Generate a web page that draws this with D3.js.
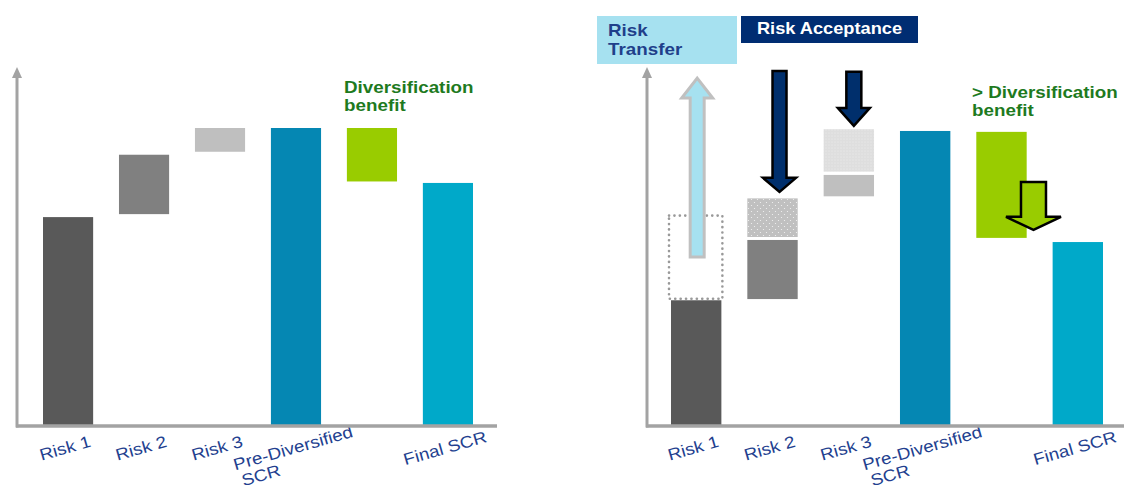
<!DOCTYPE html>
<html>
<head>
<meta charset="utf-8">
<script src="https://cdn.jsdelivr.net/npm/d3@7"></script>
<style>
  html, body { margin: 0; padding: 0; background: #fff; }
  svg { display: block; font-family: "Liberation Sans", Arial, sans-serif; }
</style>
</head>
<body>
<svg id="chart" width="1124" height="491"></svg>
<script>
// ---------------- DATA ----------------
const categories = ["Risk 1", "Risk 2", "Risk 3", "Pre-Diversified SCR", "Diversification", "Final SCR"];
const tickLabels = ["Risk 1", "Risk 2", "Risk 3", "Pre-Diversified\nSCR", "", "Final SCR"];
const barColors  = ["#595959", "#808080", "#bfbfbf", "#0587b3", "#99cc00", "#00a9c9"];

// Left chart (before): floating bars [start, end]
const leftStart = [0, 71, 92, 0, 82, 0];
const leftEnd   = [70, 91, 100, 100, 100, 81.5];

// Right chart (after): floating bars [start, end]
const rightStart = [0, 42.4, 77, 0, 63, 0];
const rightEnd   = [42, 62.3, 84.2, 99, 98.7, 61.6];

// Right chart: transferred risk (dotted outline) on Risk 1
const transferCat = ["Risk 1"];
const transferStart = [42.5];
const transferEnd   = [70.5];

// Right chart: accepted risk (patterned) on Risk 2 / Risk 3
const acceptCats  = ["Risk 2", "Risk 3"];
const acceptStart = [63.3, 85.3];
const acceptEnd   = [76.3, 99.6];

// Right chart: arrows [category, from value, to value]
const arrowCats = ["Risk 1", "Risk 2", "Risk 3", "Diversification"];
const arrowFrom = [56.6, 119.2, 118.9, 81.8];
const arrowTo   = [116.8, 78.5, 100.7, 65.7];

const yAxisMax = 120.5;

// ---------------- DRAW ----------------
const STRETCH = 1.14; // text in the reference is horizontally widened
const svg = d3.select("#chart");
const defs = svg.append("defs");

// dotted patterns
const p1 = defs.append("pattern").attr("id", "dots2").attr("patternUnits", "userSpaceOnUse")
  .attr("width", 6).attr("height", 6);
p1.append("rect").attr("width", 6).attr("height", 6).attr("fill", "#c0c0c0");
p1.append("circle").attr("cx", 1.5).attr("cy", 1.5).attr("r", 0.6).attr("fill", "#f4f4f4");
p1.append("circle").attr("cx", 4.5).attr("cy", 4.5).attr("r", 0.6).attr("fill", "#f4f4f4");

const p2 = defs.append("pattern").attr("id", "dots3").attr("patternUnits", "userSpaceOnUse")
  .attr("width", 3).attr("height", 3);
p2.append("rect").attr("width", 3).attr("height", 3).attr("fill", "#dedede");
p2.append("circle").attr("cx", 1).attr("cy", 1).attr("r", 0.5).attr("fill", "#f4f4f4");

const y = d3.scaleLinear().domain([0, 100]).range([425, 128]);

// helper: multi-line text at (x, y) stretched horizontally
function stretchedText(parent, x, yy, lines, lineH, attrs) {
  const t = parent.append("text").attr("transform", `translate(${x},${yy}) scale(${STRETCH},1)`);
  Object.entries(attrs).forEach(([k, v]) => t.attr(k, v));
  lines.forEach((s, i) => t.append("tspan").attr("x", 0).attr("y", i * lineH).text(s));
  return t;
}

function drawPanel(x0, x1, axisLeft, axisRight, starts, ends) {
  const x = d3.scaleBand().domain(categories).range([x0, x1]).paddingInner(0.34).paddingOuter(0);
  const gg = svg.append("g");

  // bars
  gg.selectAll("rect.bar").data(categories).join("rect")
    .attr("class", "bar")
    .attr("x", d => x(d))
    .attr("width", x.bandwidth())
    .attr("y", (d, i) => y(ends[i]))
    .attr("height", (d, i) => y(starts[i]) - y(ends[i]))
    .attr("fill", (d, i) => barColors[i]);

  // axis labels through d3 axis
  const ax = gg.append("g").attr("transform", `translate(0,${y(0) + 1})`)
    .call(d3.axisBottom(x).tickSize(0).tickPadding(0).tickFormat((d, i) => tickLabels[i]));
  ax.select(".domain").remove();
  ax.selectAll(".tick text").each(function() {
    const t = d3.select(this);
    const lines = t.text().split("\n");
    t.text(null)
      .attr("y", 0).attr("dy", null)
      .attr("fill", "#233f8f")
      .attr("font-size", 16.5)
      .attr("transform", `translate(-3,22) rotate(-16) scale(${STRETCH},1)`);
    if (lines.length === 1) {
      t.attr("text-anchor", "middle").append("tspan").attr("x", 0).attr("dy", "0.35em").text(lines[0]);
    } else {
      t.attr("text-anchor", "start");
      const first = t.append("tspan").attr("x", 0).attr("dy", "0.35em").text(lines[0]);
      const w = first.node().getComputedTextLength();
      first.attr("x", -w / 2);
      for (let k = 1; k < lines.length; k++) {
        t.append("tspan").attr("x", -w / 2 + 3).attr("dy", "1.05em").text(lines[k]);
      }
    }
  });

  // axis lines
  const axisColor = "#a3a3a3";
  gg.append("line")
    .attr("x1", axisLeft - 1).attr("x2", axisRight)
    .attr("y1", y(0) + 1).attr("y2", y(0) + 1)
    .attr("stroke", axisColor).attr("stroke-width", 3.5);
  gg.append("line")
    .attr("x1", axisLeft).attr("x2", axisLeft)
    .attr("y1", y(0) + 2.5).attr("y2", y(yAxisMax) + 8)
    .attr("stroke", axisColor).attr("stroke-width", 3);
  gg.append("path")
    .attr("d", `M${axisLeft},${y(yAxisMax)} L${axisLeft + 5},${y(yAxisMax) + 11} L${axisLeft - 5},${y(yAxisMax) + 11} Z`)
    .attr("fill", axisColor);

  return { x, gg };
}

// ----- Left panel -----
const L = drawPanel(43, 473, 17, 497, leftStart, leftEnd);
stretchedText(L.gg, 344, 93, ["Diversification", "benefit"], 18,
  { fill: "#1e7a1e", "font-weight": "bold", "font-size": 16.5 });

// ----- Right panel -----
const R = drawPanel(671, 1103, 647, 1124, rightStart, rightEnd);
const xr = R.x;

// accepted (patterned) boxes
R.gg.selectAll("rect.accept").data(acceptCats).join("rect")
  .attr("class", "accept")
  .attr("x", d => xr(d))
  .attr("width", xr.bandwidth())
  .attr("y", (d, i) => y(acceptEnd[i]))
  .attr("height", (d, i) => y(acceptStart[i]) - y(acceptEnd[i]))
  .attr("fill", (d, i) => i === 0 ? "url(#dots2)" : "url(#dots3)");

// transferred (dotted outline) box
R.gg.selectAll("rect.transfer").data(transferCat).join("rect")
  .attr("class", "transfer")
  .attr("x", d => xr(d) - 2)
  .attr("width", xr.bandwidth() + 3)
  .attr("y", (d, i) => y(transferEnd[i]))
  .attr("height", (d, i) => y(transferStart[i]) - y(transferEnd[i]))
  .attr("fill", "none")
  .attr("stroke", "#999")
  .attr("stroke-width", 2.6)
  .attr("stroke-linecap", "round")
  .attr("stroke-dasharray", "0.1 5.3");

// arrows
const arrowStyle = [
  { dx: 1,  shaft: 14, head: 31, headL: 20, fill: "#a6e1f0", stroke: "#c0c0c0", sw: 3 },
  { dx: 7,  shaft: 14, head: 33, headL: 14, fill: "#002f6c", stroke: "#000",    sw: 2.5 },
  { dx: 5,  shaft: 15, head: 32, headL: 18, fill: "#002f6c", stroke: "#000",    sw: 2.5 },
  { dx: 32, shaft: 25, head: 55, headL: 13, fill: "#99cc00", stroke: "#000",    sw: 2.5 }
];
function arrowPath(cx, y0, y1, sw, hw, hl) {
  const dir = Math.sign(y1 - y0);
  const hb = y1 - dir * hl;
  return `M${cx - sw / 2},${y0} L${cx - sw / 2},${hb} L${cx - hw / 2},${hb} L${cx},${y1} ` +
         `L${cx + hw / 2},${hb} L${cx + sw / 2},${hb} L${cx + sw / 2},${y0} Z`;
}
R.gg.selectAll("path.arrow").data(arrowCats).join("path")
  .attr("class", "arrow")
  .attr("d", (d, i) => {
    const s = arrowStyle[i];
    const cx = xr(d) + xr.bandwidth() / 2 + s.dx;
    return arrowPath(cx, y(arrowFrom[i]), y(arrowTo[i]), s.shaft, s.head, s.headL);
  })
  .attr("fill", (d, i) => arrowStyle[i].fill)
  .attr("stroke", (d, i) => arrowStyle[i].stroke)
  .attr("stroke-width", (d, i) => arrowStyle[i].sw)
  .attr("stroke-linejoin", "miter");

// header boxes
R.gg.append("rect").attr("x", 597).attr("y", 16).attr("width", 140).attr("height", 48).attr("fill", "#a6e1f0");
stretchedText(R.gg, 608, 36, ["Risk", "Transfer"], 19,
  { fill: "#1f3f8a", "font-weight": "bold", "font-size": 16.5 });

R.gg.append("rect").attr("x", 741).attr("y", 16).attr("width", 177).attr("height", 27).attr("fill", "#002d72");
stretchedText(R.gg, 829.5, 34, ["Risk Acceptance"], 18,
  { fill: "#fff", "font-weight": "bold", "font-size": 16, "text-anchor": "middle" });

stretchedText(R.gg, 972, 98, ["> Diversification", "benefit"], 18.5,
  { fill: "#1e7a1e", "font-weight": "bold", "font-size": 16.5 });
</script>
</body>
</html>
